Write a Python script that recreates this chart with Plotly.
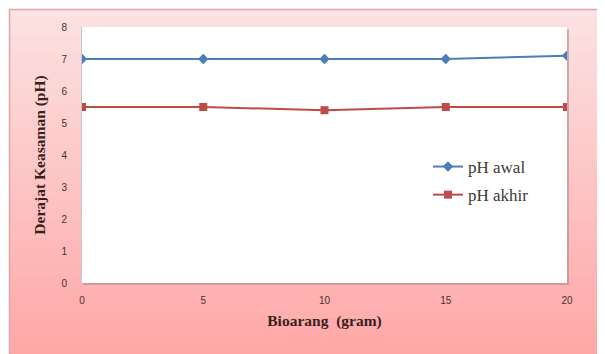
import plotly.graph_objects as go

biorang = [0, 5, 10, 15, 20]
ph_awal = [7.0, 7.0, 7.0, 7.0, 7.1]
ph_akhir = [5.5, 5.5, 5.4, 5.5, 5.5]
y_ticks = [0, 1, 2, 3, 4, 5, 6, 7, 8]
x_ticks = [0, 5, 10, 15, 20]

O = 8  # page body margin offset
W, H = 605 - O, 354 - O
# plot area in page pixels: x 82..567, y 27..283
L, R, T, B = 82 - O, 605 - 567, 27 - O, 354 - 283
pw, ph = W - L - R, H - T - B

def px_x(p):  # page pixel -> paper x
    return (p - O - L) / pw

def px_y(p):  # page pixel -> paper y
    return (H - B - (p - O)) / ph

fig = go.Figure()
fig.add_trace(go.Scatter(x=biorang, y=ph_awal, name="pH awal", mode="lines+markers",
                         legendgroup="a",
                         line=dict(color="#4a7ebb", width=2),
                         marker=dict(symbol="diamond", size=8, color="#4a7ebb")))
fig.add_trace(go.Scatter(x=biorang, y=ph_akhir, name="pH akhir", mode="lines+markers",
                         legendgroup="b",
                         line=dict(color="#be4b48", width=2),
                         marker=dict(symbol="square", size=8, color="#be4b48")))

shapes = []
n = 40
top = (252, 226, 226)
bot = (255, 166, 166)
y_top, y_bot = 9, 360
for i in range(n):
    f = i / (n - 1)
    c = tuple(round(top[k] + (bot[k] - top[k]) * f) for k in range(3))
    a = y_top + (y_bot - y_top) * i / n
    b = y_top + (y_bot - y_top) * (i + 1) / n
    shapes.append(dict(type="rect", xref="paper", yref="paper", layer="below",
                       x0=px_x(9), x1=px_x(612), y0=px_y(b + 0.5), y1=px_y(a),
                       line=dict(width=0), fillcolor="rgb(%d,%d,%d)" % c))
# outer border
shapes.append(dict(type="rect", xref="paper", yref="paper", layer="below",
                   x0=px_x(9.5), x1=px_x(615), y0=px_y(365), y1=px_y(9.5),
                   line=dict(width=1.5, color="#d9a9a9"), fillcolor="rgba(0,0,0,0)"))
# plot area shadow and white fill
shapes.append(dict(type="rect", xref="paper", yref="paper", layer="below",
                   x0=px_x(83), x1=px_x(569), y0=px_y(285), y1=px_y(29),
                   line=dict(width=0), fillcolor="rgba(170,140,140,0.6)"))
shapes.append(dict(type="rect", xref="paper", yref="paper", layer="below",
                   x0=0, x1=1, y0=0, y1=1,
                   line=dict(width=0), fillcolor="white"))

fig.update_layout(
    width=W, height=H,
    margin=dict(l=L, r=R, t=T, b=B, pad=0),
    paper_bgcolor="white",
    plot_bgcolor="rgba(0,0,0,0)",
    shapes=shapes,
    showlegend=True,
    legend=dict(x=px_x(428), y=px_y(149), xanchor="left", yanchor="top",
                bgcolor="rgba(0,0,0,0)", traceorder="grouped",
                font=dict(family="Liberation Serif, serif", size=17, color="#3a3a3a"),
                tracegroupgap=3, itemwidth=30),
    xaxis=dict(range=[0, 20], tickvals=x_ticks, showgrid=False, zeroline=False,
               showline=False, ticks="", ticklabelstandoff=10,
               tickfont=dict(family="Liberation Sans", size=10, color="#4a3030"),
               title=dict(text="<b>Bioarang  (gram)</b>", standoff=10,
                          font=dict(family="Liberation Serif, serif", size=15.5, color="#3a1f1f"))),
    yaxis=dict(range=[0, 8], tickvals=y_ticks, showgrid=False, zeroline=False,
               showline=True, linecolor="#c8c8c8", linewidth=1, ticks="",
               ticklabelstandoff=12,
               tickfont=dict(family="Liberation Sans", size=10, color="#4a3030"),
               title=dict(text="<b>Derajat Keasaman (pH)</b>", standoff=12,
                          font=dict(family="Liberation Serif, serif", size=15.5, color="#3a1f1f"))),
)

fig.write_html("out.html")
